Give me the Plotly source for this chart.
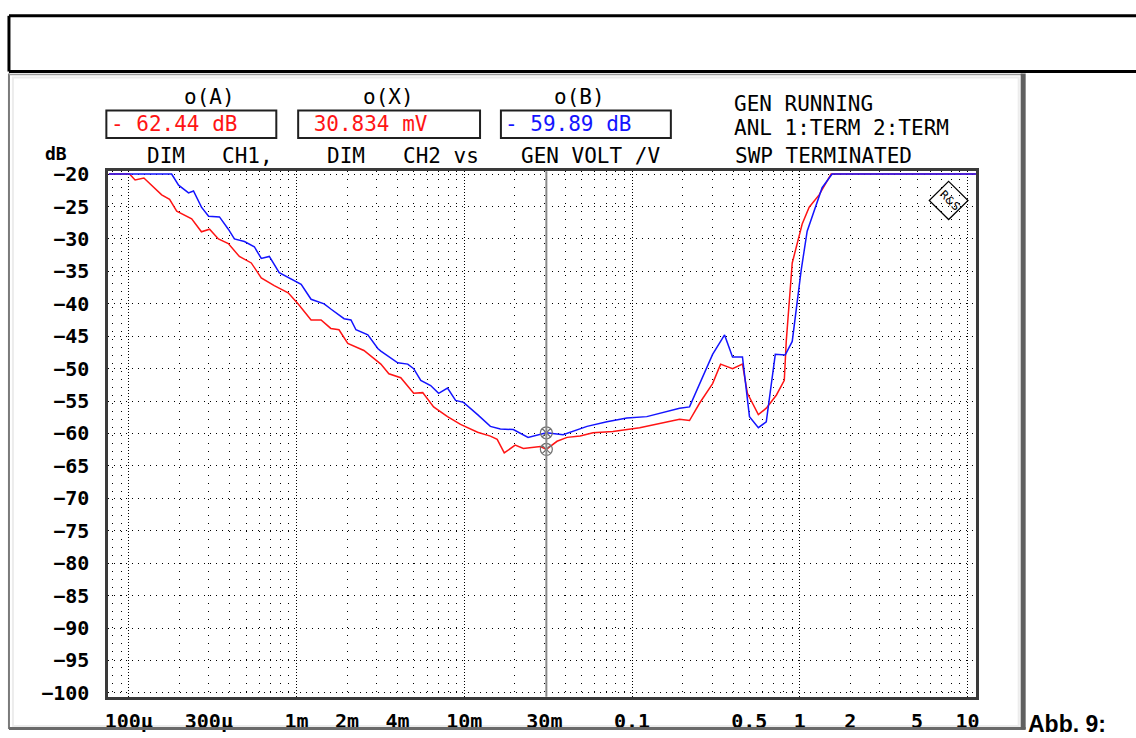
import plotly.graph_objects as go

# Generator voltage (V) und Pegel (dB) der beiden Kanäle
ch1_volt = [7.6e-5, 1.01e-4, 1.09e-4, 1.23e-4, 1.57e-4, 1.75e-4, 1.93e-4, 2.37e-4, 2.71e-4,
            3.03e-4, 3.42e-4, 3.92e-4, 4.56e-4, 5.37e-4, 6.16e-4, 7.36e-4, 8.91e-4, 1.02e-3,
            1.22e-3, 1.40e-3, 1.60e-3, 1.79e-3, 2.02e-3, 2.52e-3, 3.18e-3, 3.55e-3, 4.18e-3,
            4.99e-3, 5.65e-3, 6.56e-3, 7.94e-3, 9.49e-3, 1.20e-2, 1.43e-2, 1.57e-2, 1.73e-2,
            2.01e-2, 2.25e-2, 2.84e-2, 3.0834e-2, 3.57e-2, 4.10e-2, 4.90e-2, 5.85e-2, 7.69e-2,
            0.111, 0.192, 0.220, 0.253, 0.302, 0.337, 0.397, 0.455, 0.487, 0.566, 0.631,
            0.724, 0.808, 0.830, 0.901, 1.033, 1.137, 1.303, 1.537, 11.5]
ch1_db = [-20, -20, -20.9, -20.6, -23.2, -23.9, -25.7, -26.9, -28.9,
          -28.5, -30.0, -30.7, -32.7, -33.7, -36.0, -37.2, -38.3, -40.0,
          -42.5, -42.5, -43.8, -44.0, -46.1, -47.2, -49.3, -50.8, -51.4,
          -53.8, -53.7, -55.9, -57.4, -58.6, -59.8, -60.4, -60.9, -63.0,
          -61.8, -62.3, -62.0, -62.44, -61.2, -60.6, -60.4, -59.9, -59.7,
          -59.1, -57.8, -58.0, -55.3, -52.3, -49.3, -50.0, -49.3, -53.8, -57.1, -56.1,
          -54.1, -51.8, -45.8, -33.7, -27.7, -25.1, -23.2, -20, -20]

ch2_volt = [7.6e-5, 1.80e-4, 1.98e-4, 2.27e-4, 2.43e-4, 2.71e-4, 2.99e-4, 3.47e-4, 3.92e-4,
            4.26e-4, 4.89e-4, 5.60e-4, 6.16e-4, 6.88e-4, 7.88e-4, 9.68e-4, 1.065e-3, 1.22e-3,
            1.46e-3, 1.60e-3, 1.92e-3, 2.11e-3, 2.26e-3, 2.66e-3, 3.05e-3, 3.18e-3, 4.01e-3,
            4.60e-3, 4.99e-3, 5.50e-3, 6.30e-3, 7.03e-3, 7.94e-3, 8.87e-3, 9.89e-3, 1.20e-2,
            1.43e-2, 1.64e-2, 1.96e-2, 2.40e-2, 2.72e-2, 3.0834e-2, 3.88e-2, 4.39e-2, 5.39e-2,
            7.08e-2, 9.31e-2, 0.1224, 0.192, 0.220, 0.253, 0.302, 0.356, 0.397, 0.455, 0.501,
            0.566, 0.631, 0.714, 0.818, 0.901, 1.019, 1.106, 1.251, 1.358, 1.557, 11.5]
ch2_db = [-20, -20, -21.7, -22.9, -22.6, -25.1, -26.5, -26.6, -28.5,
          -30.0, -30.4, -31.2, -33.0, -32.7, -35.2, -36.5, -37.0, -39.3,
          -40.0, -40.8, -42.3, -42.5, -44.0, -44.8, -46.9, -47.3, -49.1,
          -49.3, -50.0, -51.8, -52.6, -53.8, -53.0, -54.9, -55.2, -57.1,
          -58.9, -59.3, -59.4, -60.6, -60.2, -59.89, -60.2, -59.7, -58.9,
          -58.2, -57.6, -57.4, -56.1, -55.9, -52.3, -47.8, -44.8, -48.2, -48.2, -57.4,
          -59.1, -58.2, -47.8, -47.9, -45.8, -34.8, -28.8, -24.7, -22.1, -20, -20]

# Cursor und Anzeigen
cursor_volt = 0.030834
cursor_db = [-59.89, -62.44]
readout_texts = ["- 62.44 dB", " 30.834 mV", "- 59.89 dB"]

# Achsenbeschriftungen
x_tick_vals = [1e-4, 3e-4, 1e-3, 2e-3, 4e-3, 1e-2, 3e-2, 0.1, 0.5, 1, 2, 5, 10]
x_tick_text = ["100µ", "300µ", "1m", "2m", "4m", "10m", "30m", "0.1", "0.5", "1", "2", "5", "10"]
x_decades = [1e-4, 1e-3, 1e-2, 0.1, 1, 10]
x_minor = [8e-5, 9e-5,
           2e-4, 3e-4, 4e-4, 5e-4, 6e-4, 7e-4, 8e-4, 9e-4,
           2e-3, 3e-3, 4e-3, 5e-3, 6e-3, 7e-3, 8e-3, 9e-3,
           2e-2, 3e-2, 4e-2, 5e-2, 6e-2, 7e-2, 8e-2, 9e-2,
           0.2, 0.3, 0.4, 0.5, 0.6, 0.7, 0.8, 0.9,
           2, 3, 4, 5, 6, 7, 8, 9]
y_tick_vals = [-100, -95, -90, -85, -80, -75, -70, -65, -60, -55, -50, -45, -40, -35, -30, -25, -20]

W, H = 1136, 738


def px(x):
    return x / W


def py(y):
    return 1 - y / H


MONO = "DejaVu Sans Mono"
RED = "#ff1414"
BLUE = "#1414ff"

fig = go.Figure()

fig.add_trace(go.Scatter(x=ch1_volt, y=ch1_db, mode="lines",
                         line=dict(color=RED, width=1.5), hoverinfo="skip"))
fig.add_trace(go.Scatter(x=ch2_volt, y=ch2_db, mode="lines",
                         line=dict(color=BLUE, width=1.5), hoverinfo="skip"))
fig.add_trace(go.Scatter(x=[cursor_volt] * len(cursor_db), y=cursor_db, mode="markers",
                         marker=dict(symbol="circle-x-open", size=12, color="#707070",
                                     line=dict(width=1.2)),
                         xaxis="x2", hoverinfo="skip"))

fig.update_layout(
    width=W, height=H,
    margin=dict(l=0, r=0, t=0, b=0),
    paper_bgcolor="white", plot_bgcolor="white",
    showlegend=False,
    xaxis=dict(
        type="log", range=[-4.122, 1.05], domain=[px(106), px(979)],
        tickvals=x_tick_vals, ticktext=x_tick_text,
        showgrid=False, zeroline=False, ticks="",
        tickfont=dict(family=MONO, size=20, color="black", weight="bold"),
        ticklabelstandoff=4,
        showline=True, linecolor="#3a3a3a", linewidth=3, mirror=True,
        minor=dict(tickvals=x_minor, showgrid=True, gridcolor="black",
                   griddash="1px,7px", gridwidth=1, ticks=""),
    ),
    xaxis2=dict(
        type="log", range=[-4.122, 1.05], overlaying="x", anchor="y",
        domain=[px(106), px(979)],
        tickvals=x_decades, showticklabels=False, ticks="",
        showgrid=True, gridcolor="black", griddash="1px,2px", gridwidth=1,
        zeroline=False, showline=False,
    ),
    yaxis=dict(
        range=[-100.603, -19.548], domain=[py(704), py(166)],
        tickvals=y_tick_vals,
        showgrid=True, gridcolor="black", griddash="1px,5px", gridwidth=1,
        zeroline=False, ticks="",
        tickfont=dict(family=MONO, size=20, color="black", weight="bold"),
        ticklabelstandoff=12,
        showline=True, linecolor="#3a3a3a", linewidth=3, mirror=True,
    ),
)

# Cursor-Linie
fig.add_shape(type="line", xref="x", yref="y domain", x0=cursor_volt, x1=cursor_volt,
              y0=0, y1=1, line=dict(color="#8a8a8a", width=2), layer="above")

shapes = []
# schwarzer Kasten oben
shapes.append(dict(type="line", x0=px(6), x1=1.01, y0=py(7), y1=py(7),
                   line=dict(color="black", width=3)))
shapes.append(dict(type="line", x0=px(6), x1=1.01, y0=py(64), y1=py(64),
                   line=dict(color="black", width=3)))
shapes.append(dict(type="line", x0=px(6), x1=px(6), y0=py(7), y1=py(64),
                   line=dict(color="black", width=3)))
# grauer Bildschirmrahmen
shapes.append(dict(type="rect", x0=px(10), x1=px(1022), y0=py(734), y1=py(70),
                   line=dict(color="#ececec", width=2), layer="below"))
shapes.append(dict(type="line", x0=px(6), x1=px(6), y0=py(66), y1=py(737),
                   line=dict(color="#7a7a7a", width=2)))
shapes.append(dict(type="line", x0=px(6), x1=px(1029), y0=py(736.5), y1=py(736.5),
                   line=dict(color="#6a6a6a", width=3)))
shapes.append(dict(type="line", x0=px(6), x1=px(1026), y0=py(67), y1=py(67),
                   line=dict(color="#9a9a9a", width=1.5)))
shapes.append(dict(type="line", x0=px(1026.5), x1=px(1026.5), y0=py(66), y1=py(737),
                   line=dict(color="#606060", width=5)))
# Anzeigefelder
for x0, x1 in [(104, 275), (297, 480), (501, 672)]:
    shapes.append(dict(type="rect", x0=px(x0), x1=px(x1), y0=py(132), y1=py(104),
                       line=dict(color="#202020", width=2)))
# R&S Logo
cx, cy, r = 951.5, 196, 19.5
shapes.append(dict(type="path",
                   path=f"M {px(cx)} {py(cy - r)} L {px(cx + r)} {py(cy)} L {px(cx)} {py(cy + r)} "
                        f"L {px(cx - r)} {py(cy)} Z",
                   line=dict(color="black", width=1.2)))
for s in shapes:
    s.setdefault("xref", "paper")
    s.setdefault("yref", "paper")
    fig.add_shape(**s)

annotations = [
    ("o(A)", 208, 90, "center", "black"),
    ("o(X)", 388, 90, "center", "black"),
    ("o(B)", 580, 90, "center", "black"),
    (readout_texts[0], 107, 118, "left", RED),
    (readout_texts[1], 298, 118, "left", RED),
    (readout_texts[2], 503, 118, "left", BLUE),
    ("DIM", 143, 150, "left", "black"),
    ("CH1,", 218, 150, "left", "black"),
    ("DIM", 324, 150, "left", "black"),
    ("CH2 vs", 400, 150, "left", "black"),
    ("GEN VOLT /V", 519, 150, "left", "black"),
    ("GEN RUNNING", 734, 97, "left", "black"),
    ("ANL 1:TERM 2:TERM", 734, 122, "left", "black"),
    ("SWP TERMINATED", 735, 150, "left", "black"),
]
for text, x, y, anchor, color in annotations:
    fig.add_annotation(text=text, x=px(x), y=py(y), xref="paper", yref="paper",
                       xanchor=anchor, yanchor="middle", showarrow=False,
                       font=dict(family=MONO, size=21, color=color))

fig.add_annotation(text="dB", x=px(40), y=py(148), xref="paper", yref="paper",
                   xanchor="left", yanchor="middle", showarrow=False,
                   font=dict(family=MONO, size=18, color="black", weight="bold"))
fig.add_annotation(text="R&S", x=px(cx + 1), y=py(cy), xref="paper", yref="paper",
                   xanchor="center", yanchor="middle", showarrow=False, textangle=45,
                   font=dict(family="DejaVu Sans", size=11, color="black"))
fig.add_annotation(text="<b>Abb. 9:</b>", x=px(1029), y=py(732), xref="paper", yref="paper",
                   xanchor="left", yanchor="middle", showarrow=False,
                   font=dict(family="Liberation Sans", size=23, color="black"))

# Seitenrand des Browsers entfernen, damit die Grafik bei (0,0) beginnt
fig.write_html("out.html", config={"displayModeBar": False},
               post_script="document.body.style.margin='0';")
